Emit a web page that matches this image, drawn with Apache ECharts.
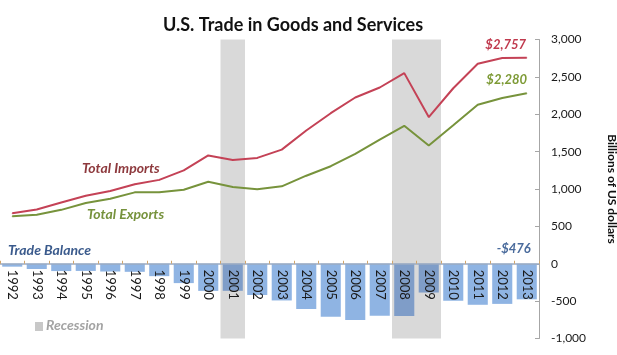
<!DOCTYPE html>
<html><head><meta charset="utf-8">
<script src="https://cdn.jsdelivr.net/npm/echarts@6/dist/echarts.min.js"></script>
<style>html,body{margin:0;padding:0;background:#fff}#c{width:617px;height:355px}</style>
</head><body><div id="c"></div>
<script>
const years = ['1992','1993','1994','1995','1996','1997','1998','1999','2000','2001','2002','2003','2004','2005','2006','2007','2008','2009','2010','2011','2012','2013'];
const imports = [675,726,819,909,973,1064,1122,1250,1449,1388,1416,1527,1783,2014,2224,2358,2550,1962,2348,2676,2753,2757];
const exports = [635,656,721,813,869,955,956,991,1096,1027,998,1036,1178,1305,1471,1662,1846,1583,1853,2127,2217,2280];
const balance = [-39,-70,-98,-96,-104,-108,-166,-259,-363,-362,-418,-491,-605,-709,-753,-697,-698,-385,-495,-549,-537,-476];
const recessionYears = ['2001','2008','2009'];
const yTicks = {min:-1000, max:3000, step:500};

const F = 'Lato, "Open Sans", sans-serif';
const last = years.length - 1;
const fmtMoney = v => (v < 0 ? '-$' : '$') + Math.abs(v).toLocaleString('en-US');

// merge consecutive recession years into continuous bands
const recIdx = recessionYears.map(y => years.indexOf(y)).sort((a, b) => a - b);
const recessionAreas = [];
recIdx.forEach(i => {
  const lastArea = recessionAreas[recessionAreas.length - 1];
  if (lastArea && lastArea[1].xAxis === i - 0.5) lastArea[1].xAxis = i + 0.5;
  else recessionAreas.push([{xAxis: i - 0.5}, {xAxis: i + 0.5}]);
});

const G = {top: 39.5, bottom: 16.5};
const plotH = 355 - G.top - G.bottom;
// shift the category axis from the grid bottom up to the value-axis zero line
const zeroOffset = -plotH * (0 - yTicks.min) / (yTicks.max - yTicks.min);

const gridBox = {left: 0, right: 78, top: G.top, bottom: G.bottom, containLabel: false, outerBoundsMode: 'none'};

const chart = echarts.init(document.getElementById('c'));
chart.setOption({
  animation: false,
  textStyle: {fontFamily: F},
  title: {text: 'U.S. Trade in Goods and Services', left: 288, textAlign: 'center', top: 11,
    textStyle: {fontFamily: F, fontSize: 18, fontWeight: 'bold', color: '#111'}},
  grid: [Object.assign({}, gridBox), Object.assign({}, gridBox)],
  xAxis: [{
    gridIndex: 0, type: 'category', data: years, boundaryGap: true, position: 'bottom',
    offset: zeroOffset,
    axisLine: {onZero: false, lineStyle: {color: '#9aabc2', width: 1.5}},
    axisTick: {show: true, inside: true, length: 3, lineStyle: {color: '#d2a56a'}},
    axisLabel: {rotate: -90, fontSize: 13, color: '#1a1a1a', margin: 6, fontFamily: F},
    z: 5
  }, {
    gridIndex: 1, type: 'value', min: -0.5, max: years.length - 0.5, show: false
  }],
  yAxis: [{
    gridIndex: 0, type: 'value', position: 'right', min: yTicks.min, max: yTicks.max, interval: yTicks.step,
    axisLine: {show: true, onZero: false, lineStyle: {color: '#a6a6a6'}},
    axisTick: {show: true, inside: true, length: 4, lineStyle: {color: '#a6a6a6'}},
    splitLine: {show: false},
    axisLabel: {fontSize: 12, color: '#1a1a1a', margin: 12, fontFamily: F,
      formatter: v => v.toLocaleString('en-US')},
    name: 'Billions of US dollars', nameLocation: 'middle', nameRotate: -90, nameGap: 67,
    nameTextStyle: {fontSize: 12, fontWeight: 'bold', color: '#111', fontFamily: F}
  }, {
    gridIndex: 1, type: 'value', min: yTicks.min, max: yTicks.max, show: false
  }],
  series: [
    {
      type: 'line', xAxisIndex: 1, yAxisIndex: 1, data: [], z: 0, silent: true,
      markArea: {silent: true, itemStyle: {color: '#d9d9d9'}, data: recessionAreas}
    },
    {
      name: 'Trade Balance', type: 'bar', data: balance, barCategoryGap: '18%', z: 2,
      itemStyle: {color: p => recessionYears.includes(years[p.dataIndex]) ? '#7f9dc8' : '#8fb4e3'},
      label: {show: true, position: 'top', distance: 4, offset: [-13, -4],
        formatter: p => p.dataIndex === last ? fmtMoney(p.value) : '',
        fontFamily: F, fontSize: 13, fontStyle: 'italic', fontWeight: 'bold', color: '#4a6b9c'}
    },
    {
      name: 'Total Imports', type: 'line', data: imports, symbol: 'circle', symbolSize: 1, showSymbol: true, z: 3,
      itemStyle: {color: '#c44256'},
      lineStyle: {color: '#c44256', width: 2},
      label: {show: true, position: 'top', distance: 6, offset: [-21, 0],
        formatter: p => p.dataIndex === last ? fmtMoney(p.value) : '',
        fontFamily: F, fontSize: 13, fontStyle: 'italic', fontWeight: 'bold', color: '#c03a4e'}
    },
    {
      name: 'Total Exports', type: 'line', data: exports, symbol: 'circle', symbolSize: 1, showSymbol: true, z: 3,
      itemStyle: {color: '#77933c'},
      lineStyle: {color: '#77933c', width: 2},
      label: {show: true, position: 'top', distance: 7, offset: [-20, 0],
        formatter: p => p.dataIndex === last ? fmtMoney(p.value) : '',
        fontFamily: F, fontSize: 13, fontStyle: 'italic', fontWeight: 'bold', color: '#7d9a35'}
    }
  ],
  graphic: [
    {type: 'text', left: 82, top: 161, style: {text: 'Total Imports', fill: '#8e3a3e',
      font: 'italic bold 14px ' + F}},
    {type: 'text', left: 87, top: 207, style: {text: 'Total Exports', fill: '#76923c',
      font: 'italic bold 14px ' + F}},
    {type: 'text', left: 8, top: 243, style: {text: 'Trade Balance', fill: '#3a5a8c',
      font: 'italic bold 14px ' + F}},
    {type: 'rect', shape: {x: 35, y: 322, width: 8, height: 9}, style: {fill: '#c8c8c8'}},
    {type: 'text', left: 46, top: 318, style: {text: 'Recession', fill: '#a3a3a3',
      font: 'italic bold 14px ' + F}}
  ]
});
</script></body></html>
